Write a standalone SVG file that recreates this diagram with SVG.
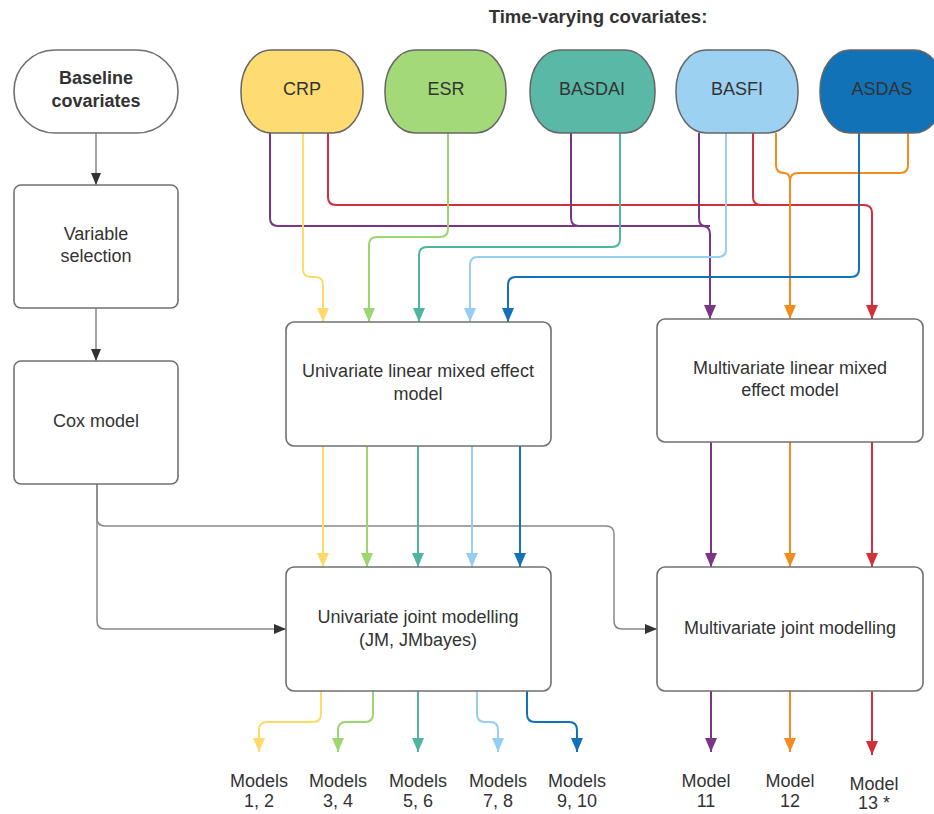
<svg xmlns="http://www.w3.org/2000/svg" width="934" height="814" viewBox="0 0 934 814">
<style>
text{font-family:"Liberation Sans",Arial,sans-serif;font-size:18px;fill:#333;text-anchor:middle}
.b{font-weight:bold}
.t{font-size:18.6px}
.box{fill:#fff;stroke:#707070;stroke-width:1.6}
.cov{stroke:#666;stroke-width:1.5}
.c{fill:none;stroke-width:2}
.g{fill:none;stroke:#888;stroke-width:1.5}
</style>
<defs>
<marker id="mk" viewBox="0 0 12 10" refX="12" refY="5" markerWidth="12" markerHeight="10" markerUnits="userSpaceOnUse" orient="auto"><path d="M0,0L12,5L0,10z" fill="#333"/></marker>
<marker id="my" viewBox="0 0 14 12" refX="14" refY="6" markerWidth="14" markerHeight="12" markerUnits="userSpaceOnUse" orient="auto"><path d="M0,0L14,6L0,12z" fill="#FFDA6A"/></marker>
<marker id="mg" viewBox="0 0 14 12" refX="14" refY="6" markerWidth="14" markerHeight="12" markerUnits="userSpaceOnUse" orient="auto"><path d="M0,0L14,6L0,12z" fill="#9BD66E"/></marker>
<marker id="mt" viewBox="0 0 14 12" refX="14" refY="6" markerWidth="14" markerHeight="12" markerUnits="userSpaceOnUse" orient="auto"><path d="M0,0L14,6L0,12z" fill="#4FB59E"/></marker>
<marker id="ml" viewBox="0 0 14 12" refX="14" refY="6" markerWidth="14" markerHeight="12" markerUnits="userSpaceOnUse" orient="auto"><path d="M0,0L14,6L0,12z" fill="#96CDF2"/></marker>
<marker id="mb" viewBox="0 0 14 12" refX="14" refY="6" markerWidth="14" markerHeight="12" markerUnits="userSpaceOnUse" orient="auto"><path d="M0,0L14,6L0,12z" fill="#1271B8"/></marker>
<marker id="mp" viewBox="0 0 14 12" refX="14" refY="6" markerWidth="14" markerHeight="12" markerUnits="userSpaceOnUse" orient="auto"><path d="M0,0L14,6L0,12z" fill="#7B3587"/></marker>
<marker id="mo" viewBox="0 0 14 12" refX="14" refY="6" markerWidth="14" markerHeight="12" markerUnits="userSpaceOnUse" orient="auto"><path d="M0,0L14,6L0,12z" fill="#F28C1E"/></marker>
<marker id="mr" viewBox="0 0 14 12" refX="14" refY="6" markerWidth="14" markerHeight="12" markerUnits="userSpaceOnUse" orient="auto"><path d="M0,0L14,6L0,12z" fill="#D1303A"/></marker>
</defs>
<rect width="934" height="814" fill="#fff"/>
<text class="b t" x="598" y="23">Time-varying covariates:</text>

<g id="connectors">
<path class="g" d="M96,133V185" marker-end="url(#mk)"/>
<path class="g" d="M96,308V361" marker-end="url(#mk)"/>
<path class="g" d="M97,484V621Q97,629 105,629H286" marker-end="url(#mk)"/>
<path class="g" d="M97,484V518Q97,526 105,526H606Q614,526 614,534V621Q614,629 622,629H657" marker-end="url(#mk)"/>

<path class="c" stroke="#D1303A" d="M328,133V197Q328,205 336,205H864Q872,205 872,213V319" marker-end="url(#mr)"/>
<path class="c" stroke="#D1303A" d="M753,133V197Q753,205 761,205H775"/>
<path class="c" stroke="#7B3587" d="M270,133V218Q270,226 278,226H702Q710,226 710,234V319" marker-end="url(#mp)"/>
<path class="c" stroke="#7B3587" d="M571,133V218Q571,226 579,226H600"/>
<path class="c" stroke="#7B3587" d="M699,133V218Q699,226 705,226H710"/>
<path class="c" stroke="#F28C1E" d="M776,133V165Q776,173 784,173Q790,173 790,181V319" marker-end="url(#mo)"/>
<path class="c" stroke="#F28C1E" d="M908,133V165Q908,173 900,173H798Q790,173 790,181"/>
<path class="c" stroke="#FFDA6A" d="M303,133V269Q303,277 311,277H315Q323,277 323,285V322" marker-end="url(#my)"/>
<path class="c" stroke="#9BD66E" d="M448,133V229Q448,237 440,237H377Q369,237 369,245V322" marker-end="url(#mg)"/>
<path class="c" stroke="#4FB59E" d="M620,133V239Q620,247 612,247H427Q419,247 419,255V322" marker-end="url(#mt)"/>
<path class="c" stroke="#96CDF2" d="M726,133V249Q726,257 718,257H478Q470,257 470,265V322" marker-end="url(#ml)"/>
<path class="c" stroke="#1271B8" d="M859,133V269Q859,277 851,277H516Q508,277 508,285V322" marker-end="url(#mb)"/>

<path class="c" stroke="#FFDA6A" d="M323,446V567" marker-end="url(#my)"/>
<path class="c" stroke="#9BD66E" d="M367,446V567" marker-end="url(#mg)"/>
<path class="c" stroke="#4FB59E" d="M418,446V567" marker-end="url(#mt)"/>
<path class="c" stroke="#96CDF2" d="M472,446V567" marker-end="url(#ml)"/>
<path class="c" stroke="#1271B8" d="M520,446V567" marker-end="url(#mb)"/>
<path class="c" stroke="#7B3587" d="M711,442V567" marker-end="url(#mp)"/>
<path class="c" stroke="#F28C1E" d="M790,442V567" marker-end="url(#mo)"/>
<path class="c" stroke="#D1303A" d="M872,442V567" marker-end="url(#mr)"/>

<path class="c" stroke="#FFDA6A" d="M321,691V714Q321,722 313,722H267Q259,722 259,730V752" marker-end="url(#my)"/>
<path class="c" stroke="#9BD66E" d="M373,691V714Q373,722 365,722H346Q338,722 338,730V752" marker-end="url(#mg)"/>
<path class="c" stroke="#4FB59E" d="M418,691V752" marker-end="url(#mt)"/>
<path class="c" stroke="#96CDF2" d="M477,691V714Q477,722 485,722H490Q498,722 498,730V752" marker-end="url(#ml)"/>
<path class="c" stroke="#1271B8" d="M527,691V714Q527,722 535,722H569Q577,722 577,730V752" marker-end="url(#mb)"/>
<path class="c" stroke="#7B3587" d="M711,691V752" marker-end="url(#mp)"/>
<path class="c" stroke="#F28C1E" d="M790,691V752" marker-end="url(#mo)"/>
<path class="c" stroke="#D1303A" d="M872,691V755" marker-end="url(#mr)"/>
</g>

<g id="baseline"><rect class="box" x="14" y="50" width="164" height="83" rx="41"/><text class="b" x="96" y="84">Baseline</text><text class="b" x="96" y="107">covariates</text></g>
<g id="varsel"><rect class="box" x="14" y="185" width="164" height="123" rx="7"/><text x="96" y="240">Variable</text><text x="96" y="262">selection</text></g>
<g id="cox"><rect class="box" x="14" y="361" width="164" height="123" rx="7"/><text x="96" y="427">Cox model</text></g>

<g id="crp"><rect class="cov" x="241" y="50" width="122" height="83" rx="30" ry="40" fill="#FFDC72"/><text x="302" y="95">CRP</text></g>
<g id="esr"><rect class="cov" x="385" y="50" width="121" height="83" rx="30" ry="40" fill="#A3D978"/><text x="446" y="95">ESR</text></g>
<g id="basdai"><rect class="cov" x="530" y="50" width="125" height="83" rx="30" ry="40" fill="#5AB9A6"/><text x="592" y="95">BASDAI</text></g>
<g id="basfi"><rect class="cov" x="676" y="50" width="122" height="83" rx="30" ry="40" fill="#9DD1F1"/><text x="737" y="95">BASFI</text></g>
<g id="asdas"><rect class="cov" x="820" y="50" width="124" height="83" rx="30" ry="40" fill="#1172B8"/><text x="882" y="95">ASDAS</text></g>

<g id="unilme"><rect class="box" x="286" y="322" width="265" height="124" rx="8"/><text x="418" y="377">Univariate linear mixed effect</text><text x="418" y="400">model</text></g>
<g id="multilme"><rect class="box" x="657" y="319" width="266" height="123" rx="8"/><text x="790" y="374">Multivariate linear mixed</text><text x="790" y="396">effect model</text></g>
<g id="unijm"><rect class="box" x="286" y="567" width="265" height="124" rx="8"/><text x="418" y="623">Univariate joint modelling</text><text x="418" y="646">(JM, JMbayes)</text></g>
<g id="multijm"><rect class="box" x="657" y="567" width="266" height="124" rx="8"/><text x="790" y="634">Multivariate joint modelling</text></g>

<g id="outputs">
<text x="259" y="787">Models</text><text x="259" y="807">1, 2</text>
<text x="338" y="787">Models</text><text x="338" y="807">3, 4</text>
<text x="418" y="787">Models</text><text x="418" y="807">5, 6</text>
<text x="498" y="787">Models</text><text x="498" y="807">7, 8</text>
<text x="577" y="787">Models</text><text x="577" y="807">9, 10</text>
<text x="706" y="787">Model</text><text x="706" y="807">11</text>
<text x="790" y="787">Model</text><text x="790" y="807">12</text>
<text x="874" y="790">Model</text><text x="874" y="809">13 *</text>
</g>
</svg>
